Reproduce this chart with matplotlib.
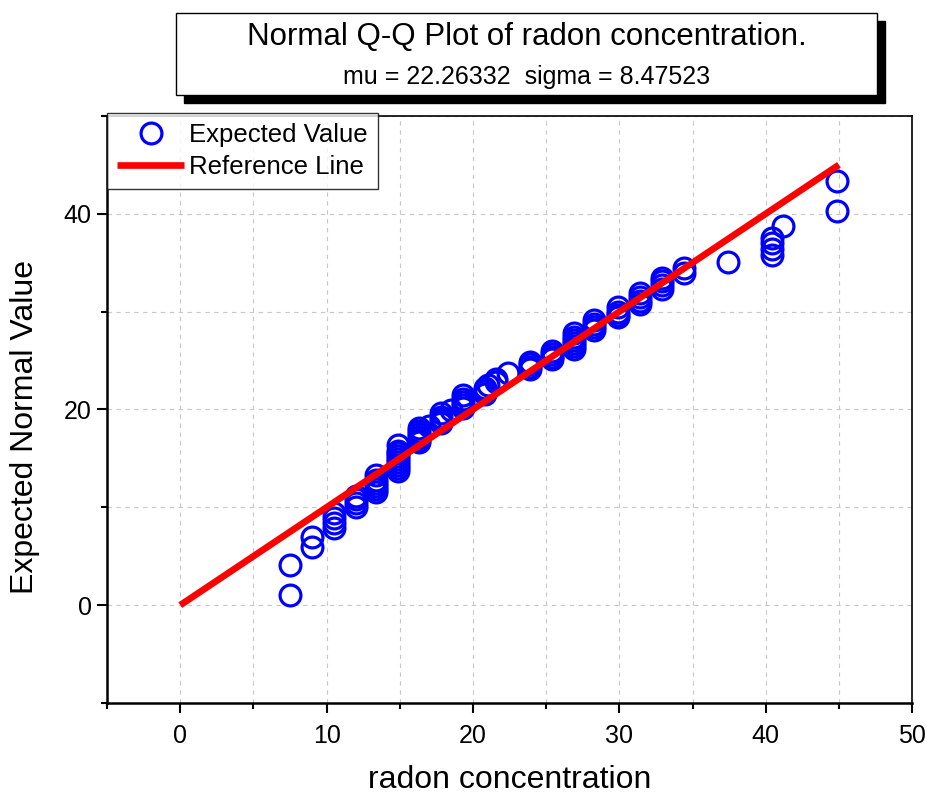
import matplotlib.pyplot as plt
from matplotlib.patches import Rectangle
from matplotlib.ticker import MultipleLocator

plt.rcParams['font.family'] = ['Liberation Sans', 'DejaVu Sans']

# radon concentration (sorted) and expected normal value
radon = [7.5, 7.5, 9.0, 9.0,
         10.5, 10.5, 10.5, 10.5,
         12.0, 12.0, 12.0, 12.0,
         13.4, 13.4, 13.4, 13.4, 13.4, 13.4,
         14.9, 14.9, 14.9, 14.9, 14.9, 14.9, 14.9, 14.9, 14.9,
         16.3, 16.3, 16.3, 16.3, 16.3, 16.3,
         17.0, 17.8, 17.8, 17.8, 17.8, 18.5,
         19.3, 19.3, 19.3, 19.3, 19.3,
         20.8, 20.8, 20.8, 21.0, 21.6, 21.6, 22.4,
         23.9, 23.9, 23.9, 23.9,
         25.4, 25.4, 25.4, 25.4,
         26.9, 26.9, 26.9, 26.9, 26.9, 26.9,
         28.3, 28.3, 28.3, 28.3,
         29.9, 29.9, 29.9, 29.9,
         31.4, 31.4, 31.4, 31.4,
         32.9, 32.9, 32.9, 32.9,
         34.4, 34.4, 37.4,
         40.4, 40.4, 40.4, 40.4, 41.2,
         44.9, 44.9]
expected = [1.0, 4.1, 5.9, 7.0,
            7.9, 8.4, 8.9, 9.4,
            10.0, 10.4, 10.8, 11.2,
            11.6, 11.9, 12.2, 12.5, 12.8, 13.3,
            13.7, 14.0, 14.3, 14.6, 14.9, 15.2, 15.5, 15.8, 16.4,
            16.7, 16.9, 17.2, 17.5, 17.8, 18.1,
            18.3, 18.6, 18.9, 19.2, 19.6, 19.9,
            20.2, 20.5, 20.8, 21.1, 21.5,
            21.6, 21.9, 22.2, 22.5, 22.8, 23.1, 23.7,
            24.1, 24.3, 24.6, 24.9,
            25.2, 25.4, 25.7, 26.0,
            26.2, 26.5, 26.8, 27.1, 27.4, 27.8,
            28.1, 28.4, 28.7, 29.1,
            29.4, 29.7, 30.0, 30.5,
            30.8, 31.1, 31.5, 31.9,
            32.3, 32.7, 33.1, 33.4,
            33.9, 34.5, 35.1,
            35.8, 36.4, 37.0, 37.5, 38.7,
            40.3, 43.4]
ref_x = [0, 45]
ref_y = [0, 45]

mu = 22.26332
sigma = 8.47523

fig = plt.figure(figsize=(9.26, 7.94), dpi=100)
ax = fig.add_axes([0.1156, 0.1146, 0.8694, 0.7394])

ax.plot(radon, expected, 'o', ls='none', mfc='none', mec='#0000ff', mew=2.3,
        ms=15, label='Expected Value', zorder=3)
ax.plot(ref_x, ref_y, color='#ff0000', lw=4.8, label='Reference Line',
        zorder=4, solid_capstyle='butt')

ax.set_xlim(-5, 50)
ax.set_ylim(-10, 50)
ax.xaxis.set_major_locator(MultipleLocator(10))
ax.xaxis.set_minor_locator(MultipleLocator(5))
ax.yaxis.set_major_locator(MultipleLocator(20))
ax.yaxis.set_minor_locator(MultipleLocator(10))
ax.grid(True, which='both', ls=(0, (4, 4)), color='#c8c8c8', lw=0.8)
ax.set_axisbelow(True)

ax.tick_params(which='major', direction='out', length=7, width=1.5, labelsize=18)
ax.tick_params(axis='x', which='major', pad=8)
ax.tick_params(axis='y', which='major', pad=4)
ax.tick_params(which='minor', direction='out', length=4, width=1.5)
ax.tick_params(top=False, right=False)
for side in ['left', 'bottom']:
    ax.spines[side].set_linewidth(1.8)
for side in ['top', 'right']:
    ax.spines[side].set_linewidth(1.2)

ax.set_xlabel('radon concentration', fontsize=23, labelpad=12)
ax.set_ylabel('Expected Normal Value', fontsize=23)
ax.yaxis.set_label_coords(-0.083, 0.47)

leg = ax.legend(loc='upper left', bbox_to_anchor=(0.0, 1.005), fontsize=18.5,
                frameon=True, fancybox=False, edgecolor='black',
                handlelength=2.6, handletextpad=0.2, borderpad=0.4,
                labelspacing=0.3, borderaxespad=0.0)
leg.get_frame().set_linewidth(1.0)

# title box with drop shadow
fig.patches.append(Rectangle((0.199, 0.870), 0.757, 0.104, transform=fig.transFigure,
                             facecolor='black', edgecolor='black', zorder=1))
fig.patches.append(Rectangle((0.190, 0.880), 0.757, 0.104, transform=fig.transFigure,
                             facecolor='white', edgecolor='black', lw=1.0, zorder=2))
fig.text(0.5686, 0.953, 'Normal Q-Q Plot of radon concentration.', ha='center',
         va='center', fontsize=22.5, zorder=3)
fig.text(0.5686, 0.903, f'mu = {mu:.5f}  sigma = {sigma:.5f}', ha='center',
         va='center', fontsize=18, zorder=3)

fig.savefig('out.png', dpi=100)
